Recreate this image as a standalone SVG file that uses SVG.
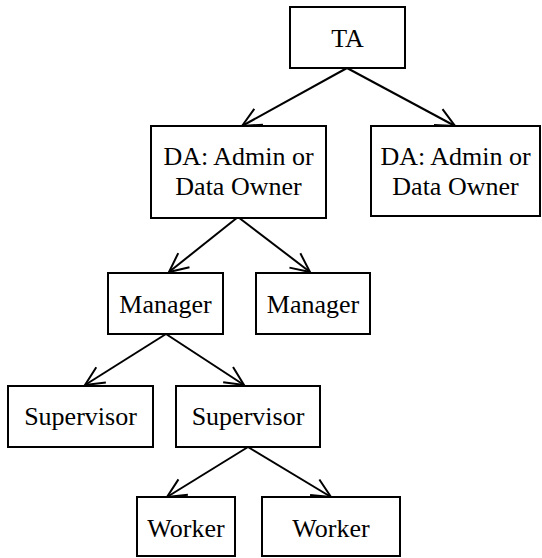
<svg xmlns="http://www.w3.org/2000/svg" width="542" height="558" viewBox="0 0 542 558">
<style>
rect{fill:#fff;stroke:#000;stroke-width:2}
text{font-family:"Liberation Serif","Times New Roman",serif;font-size:26px;fill:#000;text-anchor:middle}
.e line{stroke:#000;stroke-width:2;marker-end:url(#a)}
</style>
<defs>
<marker id="a" markerUnits="userSpaceOnUse" markerWidth="30" markerHeight="30" refX="0" refY="0" orient="auto" overflow="visible">
<path d="M-19,-9 L0,0 L-19,9" fill="none" stroke="#000" stroke-width="2"/>
</marker>
</defs>
<g class="e" id="edges">
<line x1="347" y1="68" x2="242" y2="126"/>
<line x1="347" y1="68" x2="455" y2="126"/>
<line x1="238" y1="217" x2="169" y2="272"/>
<line x1="238" y1="217" x2="310" y2="272"/>
<line x1="166" y1="334" x2="85" y2="385"/>
<line x1="166" y1="334" x2="244" y2="385"/>
<line x1="248" y1="447" x2="167" y2="497"/>
<line x1="248" y1="447" x2="331" y2="497"/>
</g>
<g id="ta"><rect x="290" y="7" width="115" height="61"/><text x="347.5" y="47">TA</text></g>
<g id="da1"><rect x="151" y="126" width="175" height="92"/><text x="238.5" y="165">DA: Admin or</text><text x="238.5" y="195">Data Owner</text></g>
<g id="da2"><rect x="371" y="126" width="169" height="90"/><text x="455.5" y="165">DA: Admin or</text><text x="455.5" y="195">Data Owner</text></g>
<g id="mgr1"><rect x="108" y="273" width="115" height="61"/><text x="165.5" y="313">Manager</text></g>
<g id="mgr2"><rect x="256" y="273" width="114" height="61"/><text x="313" y="313">Manager</text></g>
<g id="sup1"><rect x="8" y="386" width="145" height="61"/><text x="80.5" y="425">Supervisor</text></g>
<g id="sup2"><rect x="176" y="386" width="144" height="61"/><text x="248" y="425">Supervisor</text></g>
<g id="wk1"><rect x="137" y="497" width="98" height="59"/><text x="186" y="537">Worker</text></g>
<g id="wk2"><rect x="262" y="497" width="138" height="59"/><text x="331" y="537">Worker</text></g>
</svg>
